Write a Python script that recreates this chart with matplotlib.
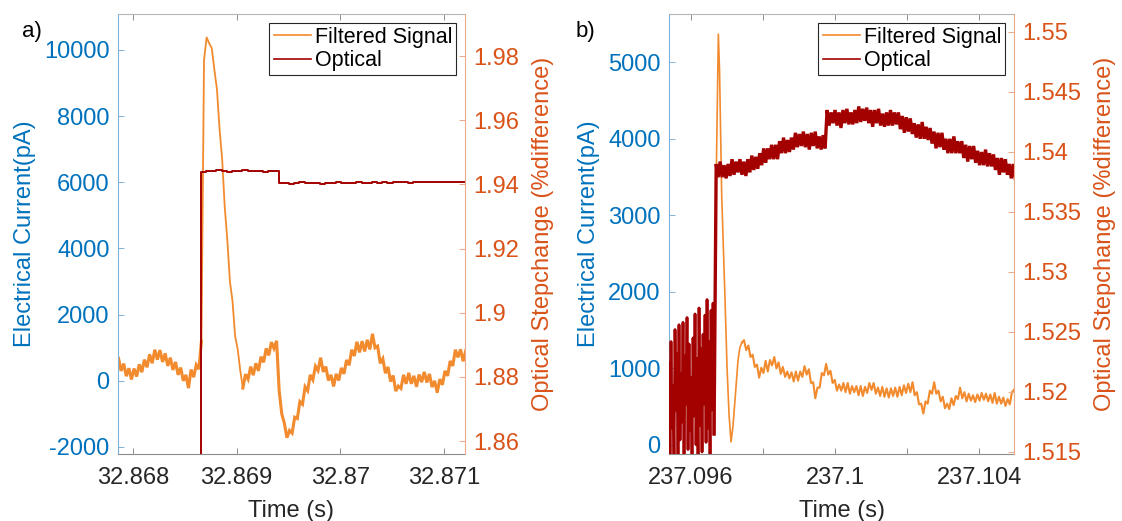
import numpy as np
import matplotlib
matplotlib.use('Agg')
import matplotlib.pyplot as plt
from matplotlib.ticker import FuncFormatter, FixedLocator
from matplotlib.lines import Line2D

plt.rcParams['font.family'] = ['Liberation Sans', 'DejaVu Sans']

# ---------------- data : panel a ----------------
A_XLIM = (32.867855, 32.871203)
A_XTICKS = [32.868, 32.869, 32.870, 32.871]
A_LEFT_LIM = (-2212, 11088)
A_LEFT_TICKS = [-2000, 0, 2000, 4000, 6000, 8000, 10000]
A_RIGHT_LIM = (1.8560, 1.9931)
A_RIGHT_TICKS = [1.86, 1.88, 1.90, 1.92, 1.94, 1.96, 1.98]

# filtered signal (pA), sampled every 25 us from t0
A_FILT_T0 = 32.86786
A_FILT_DT = 2.5e-5
A_FILT = [680, 300, 520, 140, 380, 40, 370, 130, 500, 260,
          640, 410, 800, 530, 940, 640, 930, 570, 830, 450,
          700, 330, 570, 180, 400, 0, 180, -220, 340, 110,
          480, 350, 1200, 9700, 10380, 10200, 10050, 9400, 8800, 7600,
          6700, 5250, 4250, 3000, 2400, 1350, 950, 300, -220, 200,
          50, 430, 170, 530, 300, 730, 560, 980, 770, 1170,
          980, 1210, -300, -1000, -1280, -1720, -1500, -1580, -1100, -1140,
          -630, -710, -180, -300, 180, 30, 440, 310, 700, 270,
          430, 10, 180, -170, 210, 10, 390, 210, 630, 470,
          940, 750, 1180, 860, 1200, 890, 1240, 950, 1420, 1000,
          1050, 530, 670, 230, 420, -20, 160, -310, -160, -230,
          180, -90, 240, -90, 150, -180, 190, -40, 270, -50,
          210, -190, 0, -360, 50, -120, 300, 150, 600, 450,
          940, 710, 950, 590, 910]

# optical step change (%), before step: below the axis
A_OPT_PRE_T = [32.86780, 32.868654]
A_OPT_PRE = [1.80, 1.80]
A_OPT_T0 = 32.868655
A_OPT_DT = 5e-5
A_OPT = [1.9440, 1.9443, 1.9441, 1.9444, 1.9442, 1.9440, 1.9443, 1.9442, 1.9444, 1.9441,
         1.9443, 1.9442, 1.9440, 1.9443, 1.9442,
         1.9403, 1.9405, 1.9402, 1.9404, 1.9406, 1.9403, 1.9405, 1.9404, 1.9402, 1.9405,
         1.9404, 1.9406, 1.9403, 1.9405, 1.9404, 1.9406, 1.9404, 1.9405, 1.9407, 1.9404,
         1.9406, 1.9405, 1.9407, 1.9406, 1.9408, 1.9405, 1.9407, 1.9408, 1.9406, 1.9408,
         1.9407, 1.9409, 1.9407, 1.9408, 1.9407, 1.9408, 1.9407]

# ---------------- data : panel b ----------------
B_XLIM = (237.09539, 237.10497)
B_XTICKS = [237.096, 237.098, 237.100, 237.102, 237.104]
B_XLABELS = ['237.096', '', '237.1', '', '237.104']
B_LEFT_LIM = (-118, 5633)
B_LEFT_TICKS = [0, 1000, 2000, 3000, 4000, 5000]
B_RIGHT_LIM = (1.51483, 1.5515)
B_RIGHT_TICKS = [1.515, 1.52, 1.525, 1.53, 1.535, 1.54, 1.545, 1.55]

# filtered signal (pA): spike read point by point, then a regular 60 us grid
B_FILT_SPIKE_T = [237.096640, 237.096696, 237.096760, 237.096793, 237.096854,
                  237.096946, 237.097001, 237.097057, 237.097112, 237.097168,
                  237.097223, 237.097307, 237.097362, 237.097418]
B_FILT_SPIKE = [950, 3300, 5370, 4900, 3250, 1900, 1020, 400, 40, 250,
                590, 1110, 1280, 1340]
B_FILT_T0 = 237.097473
B_FILT_DT = 6e-5
B_FILT = [1370, 1240, 1300, 1150, 1180, 1020, 1050, 880, 1010, 940,
          1100, 960, 1110, 1040, 1150, 1000, 1080, 930, 1020, 890,
          960, 870, 950, 830, 960, 840, 960, 890, 1030, 920,
          990, 810, 820, 610, 750, 750, 940, 910, 1060, 920,
          970, 810, 850, 710, 790, 710, 810, 690, 810, 670,
          770, 690, 770, 650, 770, 640, 760, 680, 810, 720,
          810, 670, 750, 640, 760, 630, 740, 620, 740, 640,
          750, 630, 760, 650, 780, 680, 800, 690, 820, 650,
          690, 530, 540, 410, 570, 540, 710, 670, 820, 670,
          710, 570, 630, 480, 540, 470, 610, 520, 640, 600,
          750, 610, 690, 570, 670, 580, 650, 560, 660, 580,
          680, 590, 670, 570, 660, 550, 680, 540, 630, 540,
          620, 510, 600, 530, 690, 720, 780]

# optical (%): noisy part before the step, then after the step
B_OPT_PRE_T0 = 237.09539
B_OPT_PRE_DT = 2.78e-5
B_OPT_PRE = [1.5224, 1.5146, 1.5242, 1.5170, 1.5205, 1.5145, 1.5252, 1.5185, 1.5232, 1.5146,
             1.5256, 1.5160, 1.5215, 1.5175, 1.5258, 1.5147, 1.5230, 1.5190, 1.5262, 1.5152,
             1.5240, 1.5168, 1.5212, 1.5146, 1.5245, 1.5180, 1.5265, 1.5156, 1.5228, 1.5147,
             1.5270, 1.5172, 1.5236, 1.5150, 1.5248, 1.5190, 1.5264, 1.5158, 1.5277, 1.5170,
             1.5242, 1.5148, 1.5268, 1.5185, 1.5274, 1.5165]
B_OPT_T0 = 237.09670
B_OPT_DT = 5.5e-5
B_OPT = [1.5390, 1.5379, 1.5392, 1.5379, 1.5389, 1.5378, 1.5390, 1.5380, 1.5394, 1.5381,
         1.5392, 1.5383, 1.5394, 1.5381, 1.5392, 1.5380, 1.5394, 1.5383, 1.5397, 1.5385,
         1.5396, 1.5386, 1.5399, 1.5389, 1.5403, 1.5391, 1.5403, 1.5394, 1.5406, 1.5394,
         1.5406, 1.5394, 1.5409, 1.5399, 1.5412, 1.5399, 1.5410, 1.5400, 1.5412, 1.5402,
         1.5416, 1.5404, 1.5415, 1.5405, 1.5417, 1.5404, 1.5415, 1.5402, 1.5416, 1.5405,
         1.5417, 1.5403, 1.5413, 1.5402, 1.5414, 1.5403, 1.5435, 1.5422, 1.5433, 1.5424,
         1.5435, 1.5422, 1.5433, 1.5420, 1.5435, 1.5424, 1.5436, 1.5423, 1.5433, 1.5423,
         1.5435, 1.5424, 1.5438, 1.5425, 1.5436, 1.5426, 1.5437, 1.5424, 1.5435, 1.5421,
         1.5435, 1.5424, 1.5436, 1.5422, 1.5432, 1.5421, 1.5433, 1.5422, 1.5435, 1.5422,
         1.5433, 1.5423, 1.5433, 1.5419, 1.5430, 1.5416, 1.5429, 1.5417, 1.5428, 1.5415,
         1.5424, 1.5412, 1.5423, 1.5411, 1.5425, 1.5411, 1.5421, 1.5410, 1.5420, 1.5407,
         1.5417, 1.5403, 1.5416, 1.5404, 1.5416, 1.5402, 1.5411, 1.5399, 1.5411, 1.5399,
         1.5413, 1.5399, 1.5409, 1.5399, 1.5409, 1.5395, 1.5406, 1.5392, 1.5405, 1.5394,
         1.5405, 1.5391, 1.5401, 1.5389, 1.5400, 1.5389, 1.5402, 1.5388, 1.5399, 1.5388,
         1.5398, 1.5385, 1.5395, 1.5381, 1.5395, 1.5383, 1.5394, 1.5381, 1.5390, 1.5378,
         1.5390, 1.5378]

LEGEND_LABELS = ['Filtered Signal', 'Optical']
LEFT_LABEL = 'Electrical Current(pA)'
RIGHT_LABEL = 'Optical Stepchange (%difference)'
X_LABEL = 'Time (s)'

# ---------------- styles ----------------
BLUE = '#0072BD'
ORANGE_AX = '#D95319'
ORANGE_LINE = '#F28A2E'
DARK_RED = '#A30000'
TICK_FS = 17
LABEL_FS = 17
LEG_FS = 15.5

fig = plt.figure(figsize=(11.22, 5.21), dpi=100)
W, H = 1122.0, 521.0


def fmt(v, p):
    return '%g' % round(v, 6)


def setup(ax, ax2, xlim, xticks, xlabels, llim, lticks, rlim, rticks):
    ax.set_xlim(*xlim)
    ax.set_ylim(*llim)
    ax2.set_ylim(*rlim)
    ax.xaxis.set_major_locator(FixedLocator(xticks))
    if xlabels is None:
        ax.xaxis.set_major_formatter(FuncFormatter(fmt))
    else:
        ax.set_xticklabels(xlabels)
    ax.yaxis.set_major_locator(FixedLocator(lticks))
    ax.yaxis.set_major_formatter(FuncFormatter(fmt))
    ax2.yaxis.set_major_locator(FixedLocator(rticks))
    ax2.yaxis.set_major_formatter(FuncFormatter(fmt))

    ax.tick_params(axis='x', direction='in', length=4, width=0.7, top=True,
                   bottom=True, colors='#8c8c8c', labelcolor='#262626',
                   labelsize=TICK_FS, pad=9)
    ax.tick_params(axis='y', direction='in', length=4, width=0.7, left=True,
                   right=False, colors='#7FB2D9', labelcolor=BLUE,
                   labelsize=TICK_FS, pad=6)
    ax2.tick_params(axis='y', direction='in', length=4, width=0.7, right=True,
                    left=False, colors='#EBA98C', labelcolor=ORANGE_AX,
                    labelsize=TICK_FS, pad=6)

    ax.spines['left'].set_color('#7FB2D9')
    ax.spines['right'].set_visible(False)
    ax.spines['top'].set_color('#B5B5B5')
    ax.spines['bottom'].set_color('#8c8c8c')
    for s in ('left', 'right', 'top', 'bottom'):
        ax.spines[s].set_linewidth(0.8)
    ax2.spines['left'].set_visible(False)
    ax2.spines['top'].set_visible(False)
    ax2.spines['bottom'].set_visible(False)
    ax2.spines['right'].set_color('#EBA98C')
    ax2.spines['right'].set_linewidth(0.8)

    ax.set_xlabel(X_LABEL, fontsize=LABEL_FS, color='#262626', labelpad=8)
    ax.set_ylabel(LEFT_LABEL, fontsize=LABEL_FS, color=BLUE, labelpad=6)
    ax2.set_ylabel(RIGHT_LABEL, fontsize=LABEL_FS, color=ORANGE_AX, labelpad=9)


def legend(ax2):
    handles = [Line2D([], [], color=ORANGE_LINE, lw=1.2),
               Line2D([], [], color=DARK_RED, lw=1.2)]
    lg = ax2.legend(handles, LEGEND_LABELS, loc='upper right', fontsize=LEG_FS,
                    frameon=True, fancybox=False, borderpad=0.2,
                    labelspacing=0.1, handlelength=1.75, handletextpad=0.15,
                    borderaxespad=0.4)
    fr = lg.get_frame()
    fr.set_edgecolor('#262626')
    fr.set_linewidth(0.8)
    fr.set_alpha(1)


# ---------------- panel a ----------------
axa = fig.add_axes([118 / W, 1 - 454 / H, 347 / W, 440 / H])
axa2 = axa.twinx()
ta = A_FILT_T0 + A_FILT_DT * np.arange(len(A_FILT))
fa = np.asarray(A_FILT, dtype=float)
axa.plot(ta[:33], fa[:33], color=ORANGE_LINE, lw=2.2, solid_joinstyle='miter')
axa.plot(ta[32:49], fa[32:49], color=ORANGE_LINE, lw=1.3)
axa.plot(ta[48:], fa[48:], color=ORANGE_LINE, lw=2.2, solid_joinstyle='miter')
to = np.concatenate([A_OPT_PRE_T, A_OPT_T0 + A_OPT_DT * np.arange(len(A_OPT))])
vo = np.concatenate([A_OPT_PRE, A_OPT])
axa2.plot(to, vo, color=DARK_RED, lw=1.4, drawstyle='steps-post')
setup(axa, axa2, A_XLIM, A_XTICKS, None, A_LEFT_LIM, A_LEFT_TICKS,
      A_RIGHT_LIM, A_RIGHT_TICKS)
legend(axa2)

# ---------------- panel b ----------------
axb = fig.add_axes([669 / W, 1 - 454 / H, 345 / W, 440 / H])
axb2 = axb.twinx()
axb.plot(B_FILT_SPIKE_T, B_FILT_SPIKE, color=ORANGE_LINE, lw=1.2)
tb = B_FILT_T0 + B_FILT_DT * np.arange(len(B_FILT))
axb.plot(np.concatenate([[B_FILT_SPIKE_T[-1]], tb]),
         np.concatenate([[B_FILT_SPIKE[-1]], B_FILT]),
         color=ORANGE_LINE, lw=1.5)
tpre = B_OPT_PRE_T0 + B_OPT_PRE_DT * np.arange(len(B_OPT_PRE))
tpost = B_OPT_T0 + B_OPT_DT * np.arange(len(B_OPT))
axb2.plot(tpre, B_OPT_PRE, color=DARK_RED, lw=2.0)
axb2.plot(np.concatenate([[tpre[-1]], tpost]),
          np.concatenate([[B_OPT_PRE[-1]], B_OPT]),
          color=DARK_RED, lw=2.4, solid_joinstyle='miter')
setup(axb, axb2, B_XLIM, B_XTICKS, B_XLABELS, B_LEFT_LIM, B_LEFT_TICKS,
      B_RIGHT_LIM, B_RIGHT_TICKS)
legend(axb2)

fig.text(22 / W, 1 - 31 / H, 'a)', fontsize=16, va='center', ha='left')
fig.text(576 / W, 1 - 31 / H, 'b)', fontsize=16, va='center', ha='left')

fig.savefig('out.png', dpi=100)
